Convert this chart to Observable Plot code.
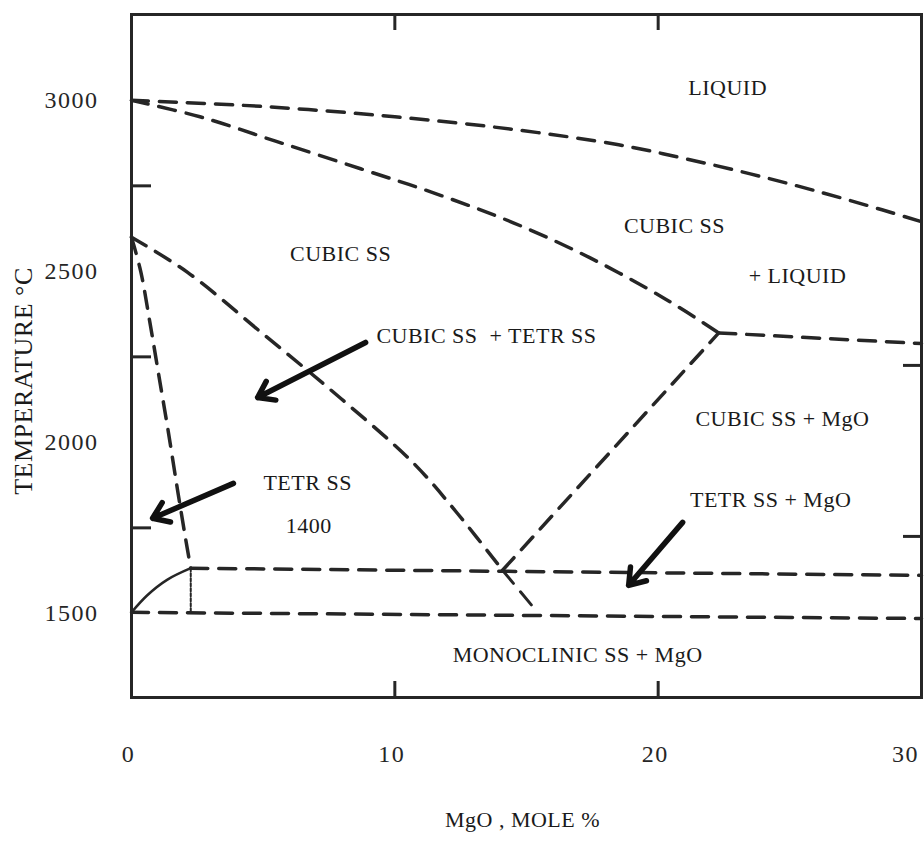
<!DOCTYPE html>
<html><head><meta charset="utf-8">
<script src="https://cdn.jsdelivr.net/npm/d3@7"></script>
<script src="https://cdn.jsdelivr.net/npm/@observablehq/plot@0.6"></script>
<style>
html,body{margin:0;padding:0;background:#fff;}
#chart svg{display:block;}
</style></head><body><div id="chart"></div>
<script>
// ---- data (x = MgO mole %, y = temperature °C) ----
const xTickLabels = [0, 10, 20];
const xLastTickLabel = [30];
const yTickLabels = [1500, 2000, 2500, 3000];
const leftMinorTicks = [1750, 2250, 2750];
const rightMinorTicks = [1725, 2225];
const bottomMinorTicks = [10, 20];
const topMinorTicks = [10, 20];

const liquidus   = [[0,3000],[5,2982],[10,2952],[14.5,2915],[18.5,2870],[21,2830],[23.5,2785],[26,2735],[28.5,2680],[30,2645]];
const solidus    = [[0,3000],[2.6,2952],[5.5,2880],[8.7,2800],[11.6,2726],[14.5,2642],[17.4,2540],[20.3,2418],[22.3,2320]];
const eutectic   = [[22.3,2320],[30,2289]];
const cubicMgO   = [[14.09,1626],[22.3,2320]];
const cubicTetr  = [[0,2600],[2.13,2497],[5.01,2316],[7.94,2129],[10.71,1939],[12.38,1792],[14.09,1626]];
const tetrCubic  = [[0,2600],[0.35,2500],[0.7,2350],[1.05,2190],[1.4,2030],[1.75,1860],[2.05,1720],[2.25,1632]];
const tetrDrop   = [[2.25,1632],[2.25,1503]];
const eutectoid  = [[2.25,1632],[30,1611]];
const monoLine   = [[0,1503],[30,1485]];
const tetrMono   = [[14.09,1626],[15.42,1503]];
const tetrSolvus = [[0,1503],[0.6,1553],[1.35,1598],[2.25,1632]];

const arrowFromX = [8.89, 3.87, 20.93];
const arrowFromT = [2292, 1880, 1766];
const arrowToX   = [4.79, 0.80, 18.88];
const arrowToT   = [2131, 1778, 1582];

const regionText = ["LIQUID", "CUBIC SS", "+ LIQUID", "CUBIC SS", "CUBIC SS  + TETR SS", "CUBIC SS + MgO", "TETR SS", "1400", "TETR SS + MgO", "MONOCLINIC SS + MgO"];
const regionX    = [22.64, 20.62, 25.29, 7.94, 13.48, 24.72, 6.69, 6.73, 24.27, 16.94];
const regionT    = [3035, 2634, 2488, 2550, 2310, 2067, 1880, 1757, 1833, 1377];

const xLabel = "MgO , MOLE %";
const yLabel = "TEMPERATURE °C";

// ---- layout ----
const W = 924, H = 841, mT = 14, mL = 131, mR = 3, mB = 144;
const frameW = W - mL - mR, frameH = H - mT - mB;
const ink = "#262626";
const font = '"Liberation Serif","Times New Roman",serif';

const arrows = arrowFromX.map((d, i) => ({x1: d, y1: arrowFromT[i], x2: arrowToX[i], y2: arrowToT[i]}));
const regions = regionText.map((t, i) => ({t, x: regionX[i], y: regionT[i]}));

const dashed = (data, opts = {}) => Plot.line(data, {
  x: d => d[0], y: d => d[1], stroke: ink, strokeWidth: 3.5,
  strokeDasharray: "17,11", curve: "catmull-rom", ...opts
});
const fmt = d => String(d);

const plot = Plot.plot({
  width: W, height: H,
  marginTop: mT, marginLeft: mL, marginRight: mR, marginBottom: mB,
  style: {fontFamily: font, background: "#fff", color: ink},
  x: {domain: [0, 30]},
  y: {domain: [1254, 3251]},
  marks: [
    dashed(liquidus),
    dashed(solidus),
    dashed(eutectic),
    dashed(cubicMgO),
    dashed(cubicTetr),
    dashed(tetrCubic),
    dashed(eutectoid),
    dashed(monoLine),
    dashed(tetrMono, {strokeWidth: 3}),
    dashed(tetrDrop, {strokeWidth: 2, strokeDasharray: "3,2"}),
    Plot.line(tetrSolvus, {x: d => d[0], y: d => d[1], stroke: ink, strokeWidth: 2.5, curve: "catmull-rom"}),
    Plot.arrow(arrows, {x1: "x1", y1: "y1", x2: "x2", y2: "y2", stroke: "#111", strokeWidth: 5.5, headLength: 5, headAngle: 70}),
    Plot.text(regions, {x: "x", y: "y", text: "t", fontSize: 22, fill: "#1a1a1a"}),
    Plot.tickY(leftMinorTicks, {y: d => d, insetRight: frameW - 20, stroke: ink, strokeWidth: 3}),
    Plot.tickY(rightMinorTicks, {y: d => d, insetLeft: frameW - 18, stroke: ink, strokeWidth: 3}),
    Plot.tickX(bottomMinorTicks, {x: d => d, insetTop: frameH - 16, stroke: ink, strokeWidth: 3}),
    Plot.tickX(topMinorTicks, {x: d => d, insetBottom: frameH - 16, stroke: ink, strokeWidth: 3}),
    Plot.frame({stroke: ink, strokeWidth: 3}),
    Plot.axisY({ticks: yTickLabels, tickFormat: fmt, tickSize: 0, tickPadding: 33, fontSize: 24, label: null}),
    Plot.axisX({ticks: xTickLabels, tickFormat: fmt, tickSize: 0, tickPadding: 47, fontSize: 24, label: null, dx: -3}),
    Plot.axisX({ticks: xLastTickLabel, tickFormat: fmt, tickSize: 0, tickPadding: 47, fontSize: 24, label: null, dx: -16}),
    Plot.text([yLabel], {frameAnchor: "left", textAnchor: "middle", dx: -108, dy: 25, rotate: -90, fontSize: 26, fill: "#1a1a1a"}),
    Plot.text([xLabel], {frameAnchor: "bottom", dx: -4, dy: 129, fontSize: 22, fill: "#1a1a1a"})
  ]
});

d3.select(plot).selectAll("text").style("letter-spacing", "0.5px");
d3.select(plot).selectAll('g[aria-label="y-axis tick label"] text, g[aria-label="x-axis tick label"] text').style("letter-spacing", "1.5px");
document.getElementById("chart").appendChild(plot);
</script>
</body></html>
